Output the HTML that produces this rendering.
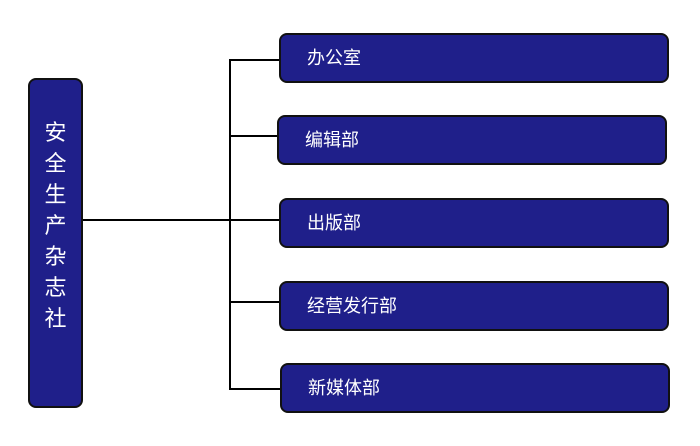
<!DOCTYPE html>
<html><head><meta charset="utf-8"><style>
body{margin:0;width:700px;height:446px;background:#fff;position:relative;overflow:hidden;font-family:"Liberation Sans","Noto Sans CJK SC",sans-serif}
.b{position:absolute;background:#1f1f8a;border:2px solid #111;border-radius:8px;box-sizing:border-box;color:#fff}
.r{height:50px;font-size:18px;line-height:46px;padding-left:26px;width:390px}
.l{position:absolute;background:#000}
</style></head><body>
<div class="b" style="left:28px;top:78px;width:55px;height:330px;font-size:22px;line-height:31px;text-align:center;padding-top:37px">安<br>全<br>生<br>产<br>杂<br>志<br>社</div>
<div class="l" style="left:83px;top:219px;width:197px;height:2px"></div>
<div class="l" style="left:229px;top:59px;width:2px;height:331px"></div>
<div class="l" style="left:229px;top:59px;width:50px;height:2px"></div>
<div class="l" style="left:229px;top:135px;width:49px;height:2px"></div>
<div class="l" style="left:229px;top:301px;width:50px;height:2px"></div>
<div class="l" style="left:229px;top:388px;width:51px;height:2px"></div>
<div class="b r" style="left:279px;top:33px">办公室</div>
<div class="b r" style="left:277px;top:115px">编辑部</div>
<div class="b r" style="left:279px;top:198px">出版部</div>
<div class="b r" style="left:279px;top:281px">经营发行部</div>
<div class="b r" style="left:280px;top:363px">新媒体部</div>
</body></html>
